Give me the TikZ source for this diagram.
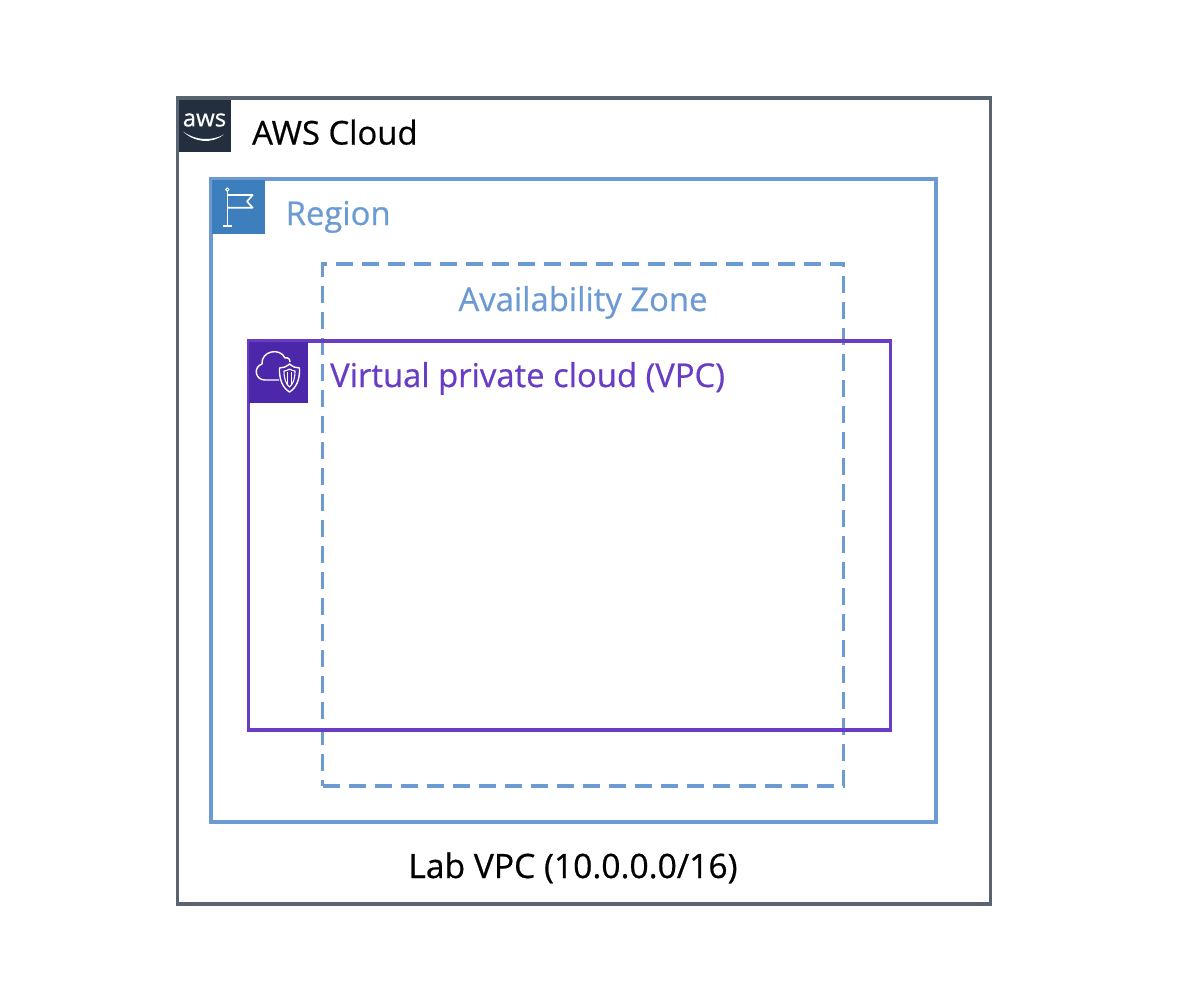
\documentclass[tikz,border=0pt]{standalone}
\usepackage{fontspec}
\setmainfont{Open Sans}[RawFeature={embolden=0.6}]
\definecolor{awsgrey}{HTML}{5A6370}
\definecolor{awsdark}{HTML}{232F3E}
\definecolor{regionblue}{HTML}{6C9BD3}
\definecolor{flagblue}{HTML}{3C7FBC}
\definecolor{vpcpurple}{HTML}{693CC5}
\definecolor{vpcdark}{HTML}{4D27AA}
\tikzset{
    group/.style={draw,line width=3.4pt,rectangle,inner sep=0pt,outer sep=0pt},
    icon/.style={rectangle,inner sep=0pt,outer sep=0pt},
    caption/.style={inner sep=0pt,font=\fontsize{32.8}{38}\selectfont},
    glyph/.style={draw=white,line width=1.6pt,line join=round}
}
\begin{document}
\begin{tikzpicture}[x=1pt,y=-1pt]
    \useasboundingbox (0,0) rectangle (1188,988);
    % groups
    \node (cloud) [group,draw=awsgrey,minimum width=813pt,minimum height=806pt] at (583.8,501) {};
    \node (region) [group,draw=regionblue,minimum width=725pt,minimum height=643pt] at (573.5,500.5) {};
    \node (zone) [group,draw=regionblue,dashed,dash pattern=on 17pt off 9pt,minimum width=521pt,minimum height=522pt] at (583,525) {};
    \node (vpc) [group,draw=vpcpurple,minimum width=642pt,minimum height=389pt] at (569.2,535.5) {};
    % icons
    \node (awsicon) [icon,fill=awsdark,minimum width=52pt,minimum height=52pt] at (205,126) {};
    \node (flagicon) [icon,fill=flagblue,minimum width=53pt,minimum height=54pt] at (238.5,207) {};
    \node (vpcicon) [icon,fill=vpcdark,minimum width=59pt,minimum height=61pt] at (278.5,372.5) {};
    \node (awstext) at (204.5,120) [text=white,inner sep=0pt,font=\fontsize{24}{24}\selectfont] {aws};
    \fill[white] (183,131.5) .. controls (196,141) and (212,141) .. (224,134.5) .. controls (212,144) and (195,143) .. (183,131.5) -- cycle;
    \draw[glyph] (227.3,191) -- (227.3,226) (223,226) -- (232,226);
    \draw[glyph] (227.3,195) -- (252.7,195) -- (247,201.5) -- (252.7,207.7) -- (227.3,207.7);
    \draw[glyph,line width=1pt] (227.3,189.5) circle (1.7pt);
    \draw[glyph,line width=1.4pt] (279,380) -- (265,380) .. controls (255,380) and (253,367) .. (262,364) .. controls (261,351) and (280,347) .. (285,358) .. controls (288,357) and (290,359) .. (290,362);
    \draw[glyph,line width=1.4pt] (289.5,364) .. controls (293,367) and (296,368) .. (299.5,368) .. controls (300,380) and (296,388) .. (289.5,392) .. controls (283,388) and (279,380) .. (279.5,368) .. controls (283,368) and (286,367) .. (289.5,364) -- cycle;
    \draw[glyph,line width=1.1pt] (289.5,369) .. controls (291,370) and (293,371) .. (295,371) .. controls (295,379) and (293,384) .. (289.5,387) .. controls (286,384) and (284,379) .. (284,371) .. controls (286,371) and (288,370) .. (289.5,369) -- cycle;
    \draw[glyph,line width=1.1pt] (287.5,372) -- (287.5,385) (291.5,372) -- (291.5,385);
    % labels
    \node (cloudlabel) [caption,text=black,anchor=base west] at (252,144.5) {AWS Cloud};
    \node (regionlabel) [caption,text=regionblue,anchor=base west] at (285.5,225) {Region};
    \node (zonelabel) [caption,text=regionblue,anchor=base] at (583,311) {Availability Zone};
    \node (vpclabel) [caption,text=vpcpurple,anchor=base west] at (330,387) {Virtual private cloud (VPC)};
    \node (lablabel) [caption,text=black,anchor=base,font=\fontsize{33.6}{38}\selectfont] at (573,878) {Lab VPC (10.0.0.0/16)};
\end{tikzpicture}
\end{document}
